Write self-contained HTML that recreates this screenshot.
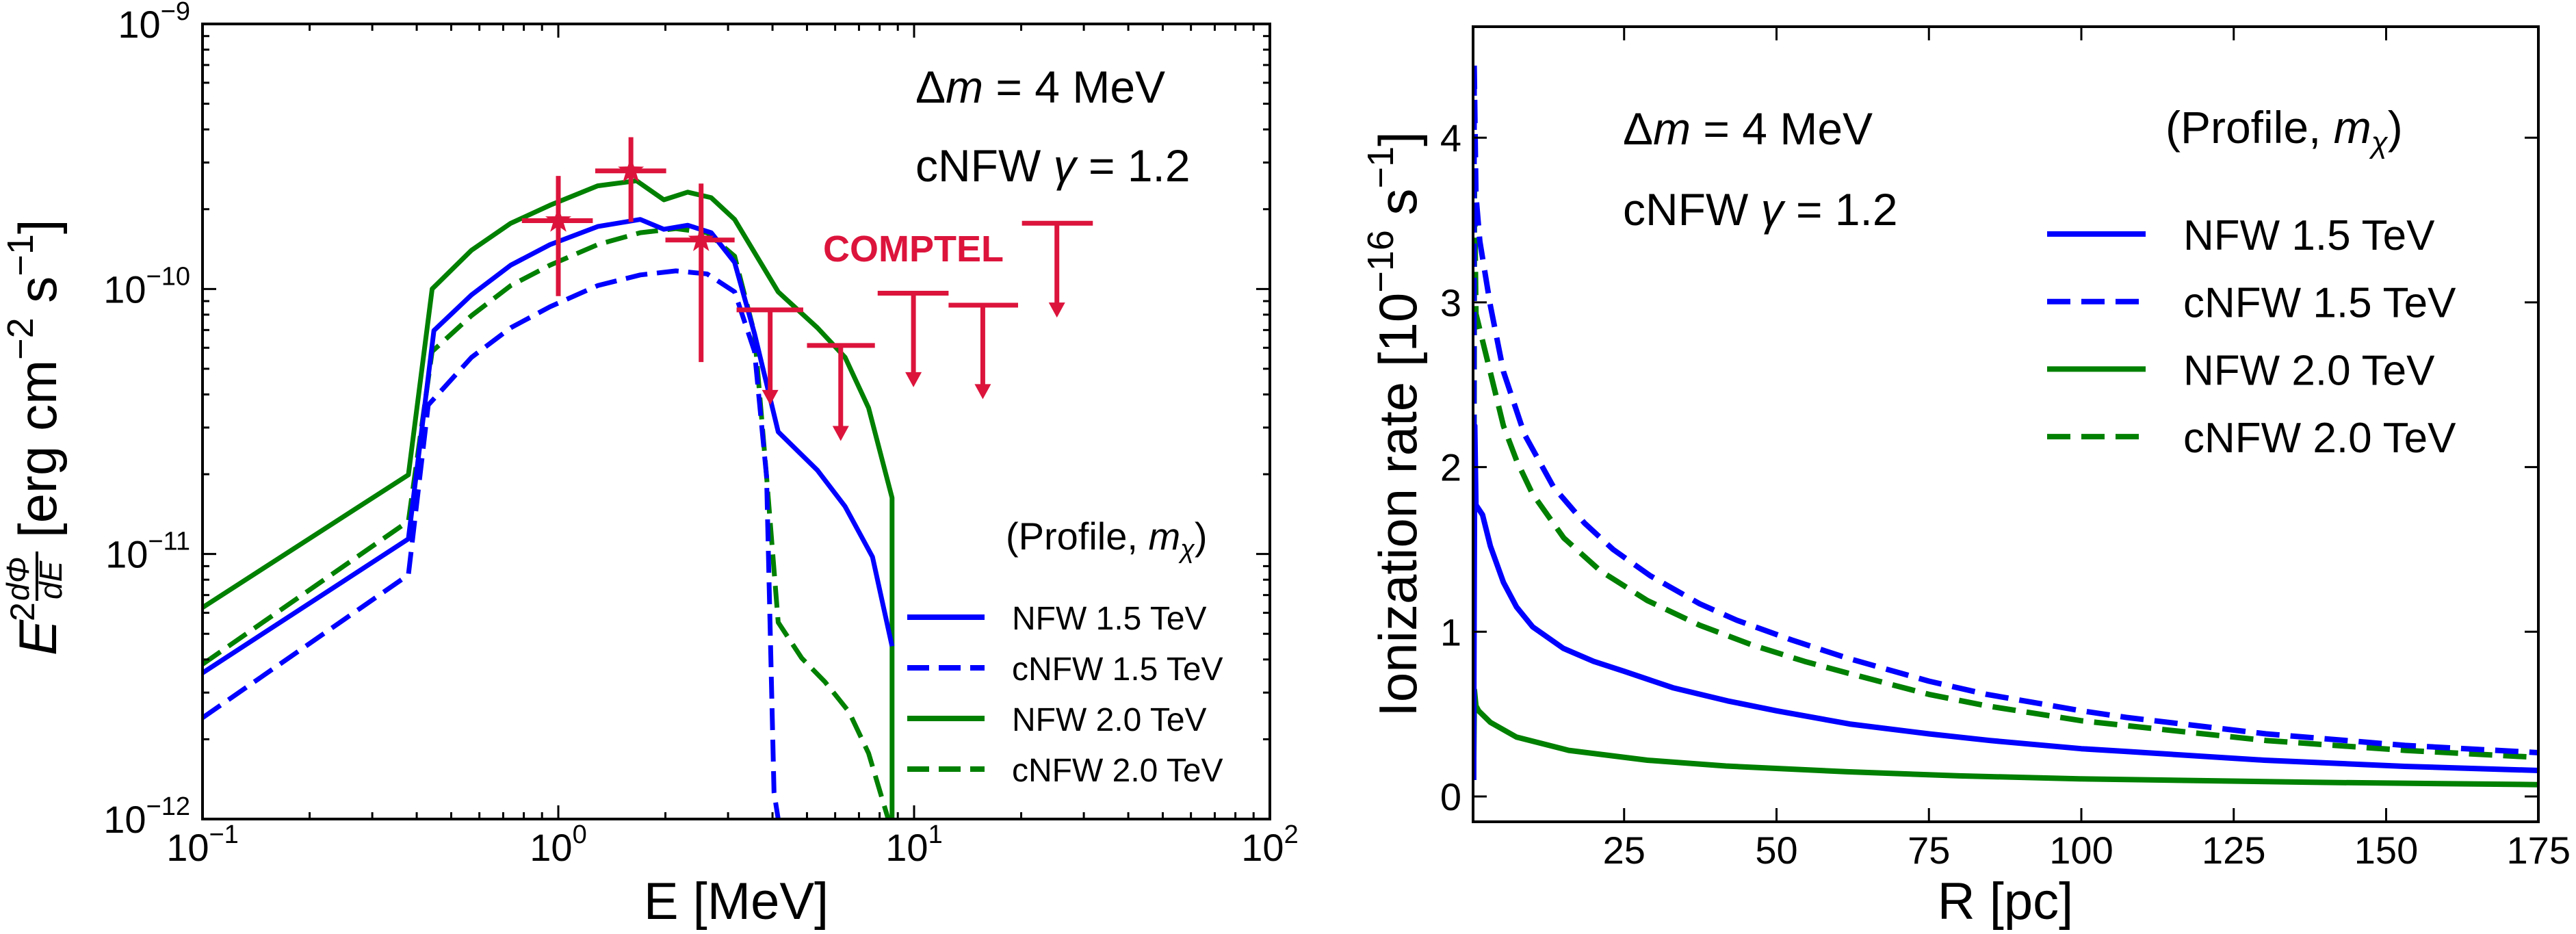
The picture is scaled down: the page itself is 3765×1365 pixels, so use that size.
<!DOCTYPE html>
<html><head><meta charset="utf-8"><style>
html,body{margin:0;padding:0;background:#fff;}
svg{display:block;font-family:"Liberation Sans",sans-serif;}
</style></head><body>
<svg id="fig" xmlns="http://www.w3.org/2000/svg" width="3765" height="1365" viewBox="0 0 3765 1365"></svg>
<script>
// ---------- Left panel data (E in MeV, E^2 dPhi/dE in erg cm^-2 s^-1) ----------
const nfw15E = [0.1,0.379,0.447,0.570,0.735,0.948,1.29,1.70,1.98,2.31,2.69,3.13,3.56,4.15,5.35,6.40,7.64,8.67];
const nfw15F = [3.56e-12,1.14e-11,6.97e-11,9.5e-11,1.23e-10,1.47e-10,1.72e-10,1.83e-10,1.68e-10,1.74e-10,1.63e-10,1.26e-10,6.78e-11,2.89e-11,2.07e-11,1.51e-11,9.75e-12,4.49e-12];
const cnfw15E = [0.1,0.379,0.431,0.570,0.735,0.948,1.29,1.70,2.14,2.62,3.13,3.56,3.85,4.04,4.15];
const cnfw15F = [2.41e-12,8.34e-12,3.65e-11,5.52e-11,7.14e-11,8.57e-11,1.03e-10,1.13e-10,1.17e-10,1.14e-10,9.75e-11,5.81e-11,1.96e-11,1.26e-12,1.0e-12];
const nfw20E = [0.1,0.379,0.442,0.570,0.735,0.948,1.29,1.66,1.98,2.31,2.69,3.13,4.15,5.35,6.40,7.45,8.67,8.67];
const nfw20F = [6.28e-12,1.99e-11,1.0e-10,1.40e-10,1.77e-10,2.07e-10,2.45e-10,2.56e-10,2.17e-10,2.32e-10,2.21e-10,1.83e-10,9.75e-11,7.14e-11,5.52e-11,3.56e-11,1.63e-11,1.0e-12];
const cnfw20E = [0.1,0.379,0.442,0.570,0.735,0.948,1.29,1.70,2.14,2.62,3.13,3.56,3.85,4.15,4.83,5.62,6.56,7.45,8.46];
const cnfw20F = [3.84e-12,1.33e-11,5.81e-11,7.93e-11,1.03e-10,1.23e-10,1.47e-10,1.63e-10,1.69e-10,1.63e-10,1.33e-10,6.78e-11,1.96e-11,5.52e-12,4.05e-12,3.29e-12,2.54e-12,1.77e-12,1.0e-12];
// COMPTEL data points
const ptE = [1.0,1.60,2.52];
const ptF = [1.81e-10,2.79e-10,1.53e-10];
const ptElo = [0.79,1.27,2.0];
const ptEhi = [1.25,2.01,3.13];
const ptFlo = [9.4e-11,1.79e-10,5.3e-11];
const ptFhi = [2.67e-10,3.74e-10,2.50e-10];
// COMPTEL upper limits
const ulE = [3.94,6.22,9.96,15.6,25.2];
const ulElo = [3.17,5.0,7.9,12.5,20.1];
const ulEhi = [4.88,7.76,12.5,19.6,31.8];
const ulF = [8.34e-11,6.12e-11,9.64e-11,8.69e-11,1.77e-10];
const ulTip = [3.65e-11,2.67e-11,4.26e-11,3.84e-11,7.8e-11];
const leftXTicks = [-1,0,1,2];
const leftYTicks = [-9,-10,-11,-12];
// ---------- Right panel data (R in pc, ionization rate in 1e-16 s^-1) ----------
const rNfw15R = [0.3,0.5,0.7,1.77,3.06,5.21,7.36,10,15,20,25,33,42,50,62,75,85,100,107,130,153,175];
const rNfw15V = [0.1,2.25,1.77,1.71,1.52,1.30,1.15,1.03,0.90,0.82,0.76,0.66,0.58,0.52,0.44,0.38,0.34,0.29,0.274,0.22,0.183,0.158];
const rCnfw15R = [0.3,0.4,0.7,1.34,3.06,5.21,8.64,13.4,18.5,23.2,29.3,37.4,43.5,52.5,61.6,75,84.5,100,107.4,130.3,153.1,175];
const rCnfw15V = [0.1,4.45,3.65,3.37,2.98,2.58,2.2,1.88,1.66,1.5,1.34,1.17,1.07,0.95,0.84,0.7,0.62,0.52,0.48,0.38,0.31,0.266];
const rNfw20R = [0.3,0.45,0.7,1.13,3.06,7.36,15.9,28.8,41.7,61.6,80,99.7,137.9,175];
const rNfw20V = [0.1,0.645,0.55,0.52,0.45,0.36,0.28,0.22,0.185,0.15,0.125,0.107,0.086,0.072];
const rCnfw20R = [0.3,0.45,0.7,2.63,5.21,7.36,9.93,15.1,21.1,28.8,37.4,46,54.6,61.6,75,84.5,100,107.4,130.3,153.1,175];
const rCnfw20V = [0.1,3.72,2.93,2.64,2.25,2.04,1.84,1.57,1.37,1.19,1.04,0.92,0.82,0.75,0.62,0.55,0.46,0.43,0.34,0.28,0.237];
const rightXTicks = [25,50,75,100,125,150,175];
const rightYTicks = [0,1,2,3,4];

const NS = "http://www.w3.org/2000/svg";
const svg = document.getElementById('fig');
function el(tag, attrs, parent){
  const e = document.createElementNS(NS, tag);
  for (const k in attrs) e.setAttribute(k, attrs[k]);
  (parent||svg).appendChild(e);
  return e;
}
const L = {x0:296, x1:1856, y0:35, y1:1197};
function lx(E){ return L.x0 + (Math.log10(E)+1)*520; }
function ly(F){ return L.y0 + (-9 - Math.log10(F))*387.33; }
const R = {x0:2153, x1:3710, y0:39, y1:1201};
function rx(r){ return 2151 + r*8.91; }
function ry(v){ return 1164 - v*240.7; }

const BLUE="#0000ff", GREEN="#008000", RED="#dc143c";
const DASH="32 14";

// ---------- LEFT PANEL ----------
const gL = el('g',{});


const clipL = el('clipPath',{id:'clipL'});
el('rect',{x:L.x0,y:L.y0,width:L.x1-L.x0,height:L.y1-L.y0},clipL);
const curvesL = el('g',{'clip-path':'url(#clipL)'},gL);
function drawLog(E,F,color,dash,name){
  const d = E.map((e,i)=>(i?'L':'M')+lx(e).toFixed(1)+' '+ly(F[i]).toFixed(1)).join(' ');
  const p = el('path',{d:d,fill:'none',stroke:color,'stroke-width':7,'stroke-linejoin':'round'},curvesL);
  if(dash) p.setAttribute('stroke-dasharray',DASH);
  
  
}
drawLog(nfw20E,nfw20F,GREEN,false,'nfw-2.0-tev-line');
drawLog(cnfw20E,cnfw20F,GREEN,true,'cnfw-2.0-tev-line');
drawLog(nfw15E,nfw15F,BLUE,false,'nfw-1.5-tev-line');
drawLog(cnfw15E,cnfw15F,BLUE,true,'cnfw-1.5-tev-line');
for(let i=0;i<ptE.length;i++){
  const g = el('g',{stroke:RED,'stroke-width':7,fill:RED},curvesL);
  
  
  const cx=lx(ptE[i]), cy=ly(ptF[i]);
  el('line',{x1:lx(ptElo[i]),x2:lx(ptEhi[i]),y1:cy,y2:cy},g);
  el('line',{x1:cx,x2:cx,y1:ly(ptFlo[i]),y2:ly(ptFhi[i])},g);
  let pts=[];
  for(let k=0;k<10;k++){const a=-Math.PI/2+k*Math.PI/5; const r=k%2?8:20; pts.push((cx+r*Math.cos(a)).toFixed(1)+','+(cy+r*Math.sin(a)).toFixed(1));}
  el('polygon',{points:pts.join(' '),stroke:'none'},g);
}
for(let i=0;i<ulE.length;i++){
  const g = el('g',{stroke:RED,'stroke-width':7,fill:RED},curvesL);
  
  
  const cx=lx(ulE[i]), cy=ly(ulF[i]), ty=ly(ulTip[i]);
  el('line',{x1:lx(ulElo[i]),x2:lx(ulEhi[i]),y1:cy,y2:cy},g);
  el('line',{x1:cx,x2:cx,y1:cy,y2:ty-18},g);
  el('polygon',{points:`${cx-12},${ty-22} ${cx+12},${ty-22} ${cx},${ty}`,stroke:'none'},g);
}
const fL = el('rect',{x:L.x0,y:L.y0,width:L.x1-L.x0,height:L.y1-L.y0,fill:'none',stroke:'#000','stroke-width':4},gL);


const tkL = el('g',{stroke:'#000','stroke-width':3},gL);
for(let d=-1; d<=2; d++){
  const x = L.x0+(d+1)*520;
  el('line',{x1:x,x2:x,y1:L.y1,y2:L.y1-20},tkL); el('line',{x1:x,x2:x,y1:L.y0,y2:L.y0+20},tkL);
  if(d<2) for(let m=2;m<10;m++){const xm=x+Math.log10(m)*520; el('line',{x1:xm,x2:xm,y1:L.y1,y2:L.y1-10},tkL); el('line',{x1:xm,x2:xm,y1:L.y0,y2:L.y0+10},tkL);}
}
for(let d=-12; d<=-9; d++){
  const y = L.y0+(-9-d)*387.33;
  el('line',{x1:L.x0,x2:L.x0+20,y1:y,y2:y},tkL); el('line',{x1:L.x1,x2:L.x1-20,y1:y,y2:y},tkL);
  if(d<-9) for(let m=2;m<10;m++){const ym=y-Math.log10(m)*387.33; el('line',{x1:L.x0,x2:L.x0+10,y1:ym,y2:ym},tkL); el('line',{x1:L.x1,x2:L.x1-10,y1:ym,y2:ym},tkL);}
}
function powLabel(x,y,exp,anchor,name,parent){
  const t = el('text',{x:x,y:y,'font-size':56,'text-anchor':anchor,fill:'#000'},parent||gL);
  
  
  const a = el('tspan',{},t); a.textContent='10';
  const b = el('tspan',{dy:-26,'font-size':38},t); b.textContent='\u2212'+Math.abs(exp);
  if(exp>=0) b.textContent=String(exp);
  return t;
}
leftXTicks.forEach(d=>{ powLabel(L.x0+(d+1)*520,1258,d,'middle','x-tick-label'); });
leftYTicks.forEach(d=>{ powLabel(278,L.y0+(-9-d)*387.33+20,d,'end','y-tick-label'); });
const xl = el('text',{x:1076,y:1343,'font-size':76,'text-anchor':'middle'},gL);
xl.textContent='E [MeV]';


const yl = el('g',{transform:'translate(82,958) rotate(-90)'},gL);


let t = el('text',{x:0,y:0,'font-size':78,'font-style':'italic'},yl); t.textContent='E';
t = el('text',{x:50,y:-32,'font-size':50},yl); t.textContent='2';
t = el('text',{x:80,y:-40,'font-size':46,'font-style':'italic'},yl); t.textContent='d\u03A6';
el('line',{x1:80,x2:152,y1:-28,y2:-28,stroke:'#000','stroke-width':4},yl);
t = el('text',{x:82,y:8,'font-size':46,'font-style':'italic'},yl); t.textContent='dE';
t = el('text',{x:172,y:0,'font-size':78},yl);
let s=el('tspan',{},t); s.textContent='[erg cm';
s=el('tspan',{dy:-34,'font-size':54},t); s.textContent='\u22122';
s=el('tspan',{dy:34,'font-size':78},t); s.textContent=' s';
s=el('tspan',{dy:-34,'font-size':54},t); s.textContent='\u22121';
s=el('tspan',{dy:34,'font-size':78},t); s.textContent=']';
function annot(x,y,parts,size,name,parent,anchor){
  const tt = el('text',{x:x,y:y,'font-size':size,'text-anchor':anchor||'start'},parent);
  
  
  parts.forEach(p=>{const sp=el('tspan',p.a||{},tt); sp.textContent=p.t;});
  return tt;
}
annot(1338,150,[{t:'\u0394'},{t:'m',a:{'font-style':'italic'}},{t:' = 4 MeV'}],66,'delta-m-annotation',gL);
annot(1338,265,[{t:'cNFW '},{t:'\u03B3',a:{'font-style':'italic'}},{t:' = 1.2'}],66,'gamma-annotation',gL);
const ct = annot(1203,382,[{t:'COMPTEL'}],54,'comptel-label',gL);
ct.setAttribute('fill',RED); ct.setAttribute('font-weight','bold');
annot(1470,803,[{t:'(Profile, '},{t:'m',a:{'font-style':'italic'}},{t:'\u03C7',a:{'font-style':'italic','font-size':38,dy:12}},{t:')',a:{dy:-12}}],56,'legend-title',gL);
const legL = [['NFW 1.5 TeV',BLUE,false],['cNFW 1.5 TeV',BLUE,true],['NFW 2.0 TeV',GREEN,false],['cNFW 2.0 TeV',GREEN,true]];
legL.forEach((e,i)=>{
  const y = 902+i*74;
  const g = el('g',{},gL);
  
  
  const ln = el('line',{x1:1326,x2:1439,y1:y,y2:y,stroke:e[1],'stroke-width':8},g);
  if(e[2]) ln.setAttribute('stroke-dasharray',DASH);
  const tx = el('text',{x:1479,y:y+18,'font-size':48},g); tx.textContent=e[0];
});

// ---------- RIGHT PANEL ----------
const gR = el('g',{});


const clipR = el('clipPath',{id:'clipR'});
el('rect',{x:R.x0,y:R.y0,width:R.x1-R.x0,height:R.y1-R.y0},clipR);
const curvesR = el('g',{'clip-path':'url(#clipR)'},gR);
function drawLin(X,V,color,dash,name){
  const d = X.map((x,i)=>(i?'L':'M')+rx(x).toFixed(1)+' '+ry(V[i]).toFixed(1)).join(' ');
  const p = el('path',{d:d,fill:'none',stroke:color,'stroke-width':8,'stroke-linejoin':'round'},curvesR);
  if(dash) p.setAttribute('stroke-dasharray','34 16');
  
  
}
drawLin(rNfw20R,rNfw20V,GREEN,false,'nfw-2.0-tev-rate');
drawLin(rCnfw20R,rCnfw20V,GREEN,true,'cnfw-2.0-tev-rate');
drawLin(rNfw15R,rNfw15V,BLUE,false,'nfw-1.5-tev-rate');
drawLin(rCnfw15R,rCnfw15V,BLUE,true,'cnfw-1.5-tev-rate');
const fR = el('rect',{x:R.x0,y:R.y0,width:R.x1-R.x0,height:R.y1-R.y0,fill:'none',stroke:'#000','stroke-width':4},gR);


const tkR = el('g',{stroke:'#000','stroke-width':3},gR);
rightXTicks.forEach(v=>{
  const x=rx(v);
  el('line',{x1:x,x2:x,y1:R.y1,y2:R.y1-20},tkR); el('line',{x1:x,x2:x,y1:R.y0,y2:R.y0+20},tkR);
  const tt=el('text',{x:x,y:1262,'font-size':56,'text-anchor':'middle'},gR); tt.textContent=String(v);
  
  
});
rightYTicks.forEach(v=>{
  const y=ry(v);
  el('line',{x1:R.x0,x2:R.x0+20,y1:y,y2:y},tkR); el('line',{x1:R.x1,x2:R.x1-20,y1:y,y2:y},tkR);
  const tt=el('text',{x:2136,y:y+20,'font-size':56,'text-anchor':'end'},gR); tt.textContent=String(v);
  
  
});
const rxl = el('text',{x:2931,y:1343,'font-size':76,'text-anchor':'middle'},gR);
rxl.textContent='R [pc]';


const ryl = el('text',{x:0,y:0,'font-size':78,'text-anchor':'middle',transform:'translate(2070,620) rotate(-90)'},gR);


s=el('tspan',{},ryl); s.textContent='Ionization rate [10';
s=el('tspan',{dy:-34,'font-size':54},ryl); s.textContent='\u221216';
s=el('tspan',{dy:34,'font-size':78},ryl); s.textContent=' s';
s=el('tspan',{dy:-34,'font-size':54},ryl); s.textContent='\u22121';
s=el('tspan',{dy:34,'font-size':78},ryl); s.textContent=']';
annot(2372,211,[{t:'\u0394'},{t:'m',a:{'font-style':'italic'}},{t:' = 4 MeV'}],66,'delta-m-annotation',gR);
annot(2372,329,[{t:'cNFW '},{t:'\u03B3',a:{'font-style':'italic'}},{t:' = 1.2'}],66,'gamma-annotation',gR);
annot(3165,209,[{t:'(Profile, '},{t:'m',a:{'font-style':'italic'}},{t:'\u03C7',a:{'font-style':'italic','font-size':44,dy:14}},{t:')',a:{dy:-14}}],66,'legend-title',gR);
legL.forEach((e,i)=>{
  const y = 342+i*98.7;
  const g = el('g',{},gR);
  
  
  const ln = el('line',{x1:2992,x2:3136,y1:y,y2:y,stroke:e[1],'stroke-width':8},g);
  if(e[2]) ln.setAttribute('stroke-dasharray','34 16');
  const tx = el('text',{x:3191,y:y+23,'font-size':62},g); tx.textContent=e[0];
});
</script>
</body></html>
